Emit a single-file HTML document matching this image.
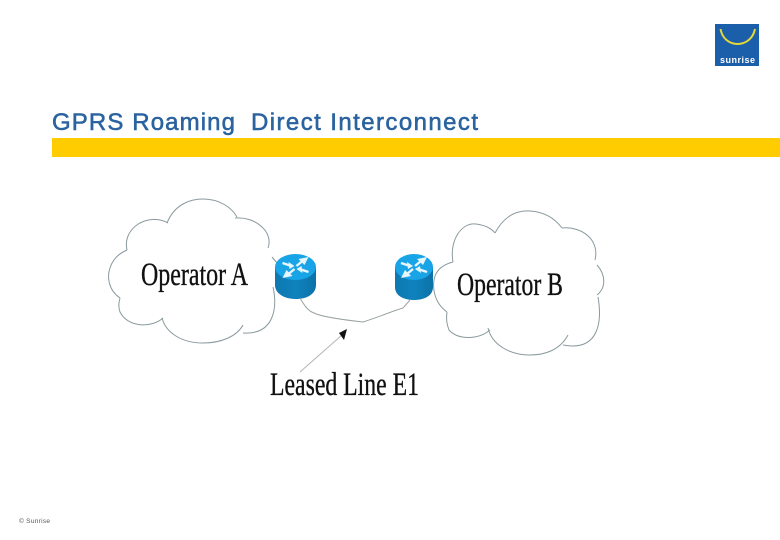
<!DOCTYPE html>
<html>
<head>
<meta charset="utf-8">
<style>
html,body{margin:0;padding:0;background:#fff;width:780px;height:540px;overflow:hidden}
svg{display:block}
</style>
</head>
<body>
<svg width="780" height="540" viewBox="0 0 780 540" xmlns="http://www.w3.org/2000/svg">
<defs>
<linearGradient id="body" x1="0" x2="1" y1="0" y2="0">
<stop offset="0" stop-color="#0e78b0"/><stop offset=".5" stop-color="#0f82bd"/><stop offset="1" stop-color="#0c72a8"/>
</linearGradient>
<g id="arrows">
<g stroke="#e8f6fc" stroke-width="2.4" fill="none">
<path d="M-13 -4 L-4 -1 M13 5 L4 2 M7 -6 L1 -1 M-7 7 L-1 2"/>
</g>
<path d="M13 -10 L3 -8 L9 -2 Z M-13 11 L-3 9 L-9 3 Z M-1 -1 L-7 -5 L-6 2 Z M1 2 L7 6 L6 -1 Z" fill="#e8f6fc"/>
</g>
</defs>
<rect width="780" height="540" fill="#fff"/>

<!-- Logo -->
<rect x="715" y="24" width="44" height="42" fill="#1b5ea9"/>
<path d="M720.5 29 C724 49 751 49 755 29" fill="none" stroke="#e3d83a" stroke-width="2"/>
<text x="720" y="63" font-family="Liberation Sans, sans-serif" font-size="9" font-weight="bold" fill="#fff" textLength="35" lengthAdjust="spacing">sunrise</text>

<!-- Title -->
<g font-family="Liberation Sans, sans-serif" font-size="24" fill="#2a639f" stroke="#2a639f" stroke-width=".55">
<text x="52" y="130" textLength="183" lengthAdjust="spacing">GPRS Roaming</text>
<text x="251" y="130" textLength="227" lengthAdjust="spacing">Direct Interconnect</text>
</g>
<rect x="52" y="138" width="728" height="19" fill="#ffcc00"/>

<!-- Cloud A -->
<g fill="none" stroke="#8a9a9e" stroke-width="1">
<path d="M127 250 C122 228 148 212 168 223"/>
<path d="M167 223 C175 203 192 199 203 199 C220 199 232 208 237 217"/>
<path d="M235 218 C255 216 274 232 268 248"/>
<path d="M272 257 L277 263"/>
<path d="M273 287 C277 305 276 335 243 333"/>
<path d="M243 325 C237 336 222 343 203 343 C182 343 166 333 162 318"/>
<path d="M163 318 C152 328 128 328 120 312 C118 306 119 302 120 298"/>
<path d="M120 298 C108 290 107 276 110 268 C113 258 120 253 127 250"/>
</g>

<!-- Cloud B -->
<g fill="none" stroke="#8a9a9e" stroke-width="1">
<path d="M453 262 C449 240 462 222 476 224 C484 225 491 228 495 233"/>
<path d="M495 233 C503 218 514 210 530 211 C546 212 556 220 562 228"/>
<path d="M562 228 C582 226 600 240 595 260"/>
<path d="M597 265 C606 275 606 288 597 295"/>
<path d="M598 297 C602 320 600 352 563 345"/>
<path d="M568 335 C560 350 545 355 530 355 C510 355 492 345 488 328"/>
<path d="M490 330 C478 340 458 340 449 330 C447 325 446 318 447 312"/>
<path d="M447 312 C433 302 432 285 435 276 C438 268 445 264 453 262"/>
</g>

<!-- Routers -->
<path d="M275 267 L275 285 C275 294 285 299 296 299 C307 299 316 294 316 285 L316 267 Z" fill="url(#body)"/>
<ellipse cx="295.5" cy="267" rx="20.5" ry="13" fill="#19a4e8"/>
<use href="#arrows" x="295.5" y="267"/>
<path d="M395 267 L395 287 C395 296 404 300 414 300 C424 300 433 296 433 287 L433 267 Z" fill="url(#body)"/>
<ellipse cx="414" cy="267" rx="19" ry="13" fill="#19a4e8"/>
<use href="#arrows" x="414" y="267"/>

<!-- Leased line -->
<path d="M300 298 C304 305 308 311 314 313 C322 317 345 320 363 322 C376 318 390 312 403 308 L410 300" fill="none" stroke="#9aa4a2" stroke-width="1"/>
<path d="M300 372 L342 335" fill="none" stroke="#b0b6b6" stroke-width="1"/>
<path d="M347 329 L339 333 L344 340 Z" fill="#111"/>

<!-- Labels -->
<g font-family="Liberation Serif, serif" fill="#111" stroke="#111" stroke-width=".35">
<text x="141" y="285" font-size="33" textLength="107" lengthAdjust="spacingAndGlyphs">Operator A</text>
<text x="457" y="295" font-size="33" textLength="106" lengthAdjust="spacingAndGlyphs">Operator B</text>
<text x="270" y="395" font-size="33" textLength="149" lengthAdjust="spacingAndGlyphs">Leased Line E1</text>
</g>

<!-- Footer -->
<text x="19" y="523" font-family="Liberation Sans, sans-serif" font-size="6.5" fill="#555" textLength="31" lengthAdjust="spacing">© Sunrise</text>
</svg>
</body>
</html>
